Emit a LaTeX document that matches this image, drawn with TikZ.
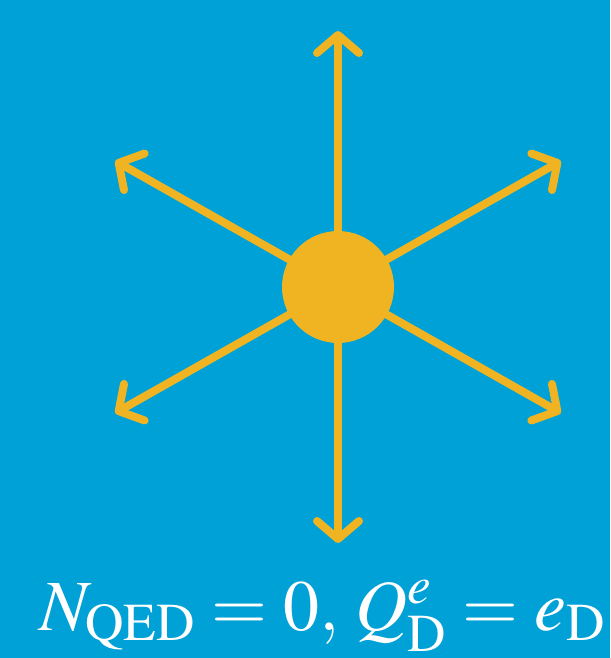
\documentclass[tikz,border=0pt]{standalone}
\usepackage{mathptmx}
\usetikzlibrary{arrows.meta,calc}
\definecolor{bg}{RGB}{0,161,214}
\definecolor{sun}{RGB}{240,180,35}
\begin{document}
\begin{tikzpicture}[x=1pt,y=-1pt,
  ray/.style={draw=sun,line width=8pt,-{Straight Barb[length=18pt,width=42pt,line cap=round,line join=round]}}]
\fill[bg] (0,0) rectangle (610,658);
\useasboundingbox (0,0) rectangle (610,658);
\coordinate (c) at (338,287);
\foreach \a/\n in {90/t,29.5/tr,150.5/tl,209.5/bl,330.5/br,270/b}{
  \coordinate (\n) at ($(c)+(\a:-256)$);
}
\foreach \n in {t,tr,tl,bl,br,b}{
  \draw[ray] (c) -- (\n);
}
\node[circle,fill=sun,minimum size=112pt,inner sep=0pt] (dot) at (c) {};
\node[anchor=base,text=white,font=\fontsize{72}{86}\selectfont,inner sep=0pt] (lab) at (322,630)
  {$N_{\mathrm{QED}}=0,\,Q_{\mathrm{D}}^{e}=e_{\mathrm{D}}$};
\end{tikzpicture}
\end{document}
